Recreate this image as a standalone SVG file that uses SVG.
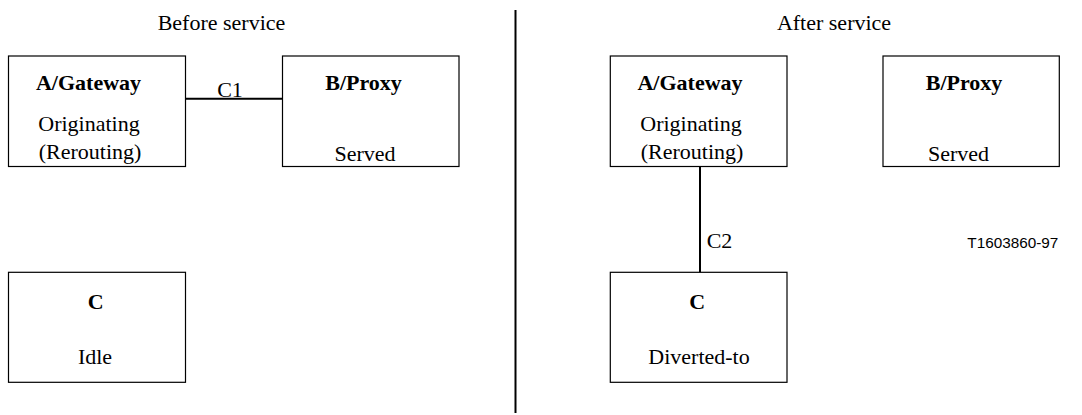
<svg xmlns="http://www.w3.org/2000/svg" width="1082" height="415" viewBox="0 0 1082 415">
<style>
.box{fill:#fff;stroke:#000;stroke-width:1.2}
.t{font-family:"Liberation Serif","Times New Roman",serif;font-size:22px;fill:#000;text-anchor:middle}
.b{font-weight:bold}
.conn{stroke:#000;stroke-width:2;fill:none}
.code{font-family:"Liberation Sans",Arial,sans-serif;font-size:15.3px;fill:#000;text-anchor:end}
</style>
<rect width="1082" height="415" fill="#fff"/>
<text class="t" x="221.5" y="30">Before service</text>
<text class="t" x="834" y="30">After service</text>
<line x1="515.5" y1="10" x2="515.5" y2="413" stroke="#000" stroke-width="2"/>
<g id="connectors">
<line class="conn" x1="185.5" y1="98.7" x2="282.5" y2="98.7"/>
<text class="t" x="230" y="97">C1</text>
<line class="conn" x1="700" y1="166.5" x2="700" y2="272.3"/>
<text class="t" x="719.5" y="248.3">C2</text>
</g>
<g id="before-A">
<rect class="box" x="8.5" y="56" width="177" height="110.5"/>
<text class="t b" x="88.5" y="90">A/Gateway</text>
<text class="t" x="89" y="131">Originating</text>
<text class="t" x="90" y="159">(Rerouting)</text>
</g>
<g id="before-B">
<rect class="box" x="282.5" y="56" width="176.5" height="110.5"/>
<text class="t b" x="363.5" y="90">B/Proxy</text>
<text class="t" x="365" y="161">Served</text>
</g>
<g id="before-C">
<rect class="box" x="8.5" y="272.3" width="177" height="110"/>
<text class="t b" x="95.7" y="309">C</text>
<text class="t" x="95" y="364.3">Idle</text>
</g>
<g id="after-A">
<rect class="box" x="610.3" y="56" width="176.7" height="110.5"/>
<text class="t b" x="690" y="90">A/Gateway</text>
<text class="t" x="691" y="131">Originating</text>
<text class="t" x="692" y="159">(Rerouting)</text>
</g>
<g id="after-B">
<rect class="box" x="883" y="56" width="176.3" height="110.5"/>
<text class="t b" x="964" y="90">B/Proxy</text>
<text class="t" x="958.5" y="161">Served</text>
</g>
<g id="after-C">
<rect class="box" x="610.3" y="272.3" width="176.7" height="110"/>
<text class="t b" x="697.3" y="309">C</text>
<text class="t" x="699" y="364.3">Diverted-to</text>
</g>
<text class="code" x="1058.3" y="248">T1603860-97</text>
</svg>
